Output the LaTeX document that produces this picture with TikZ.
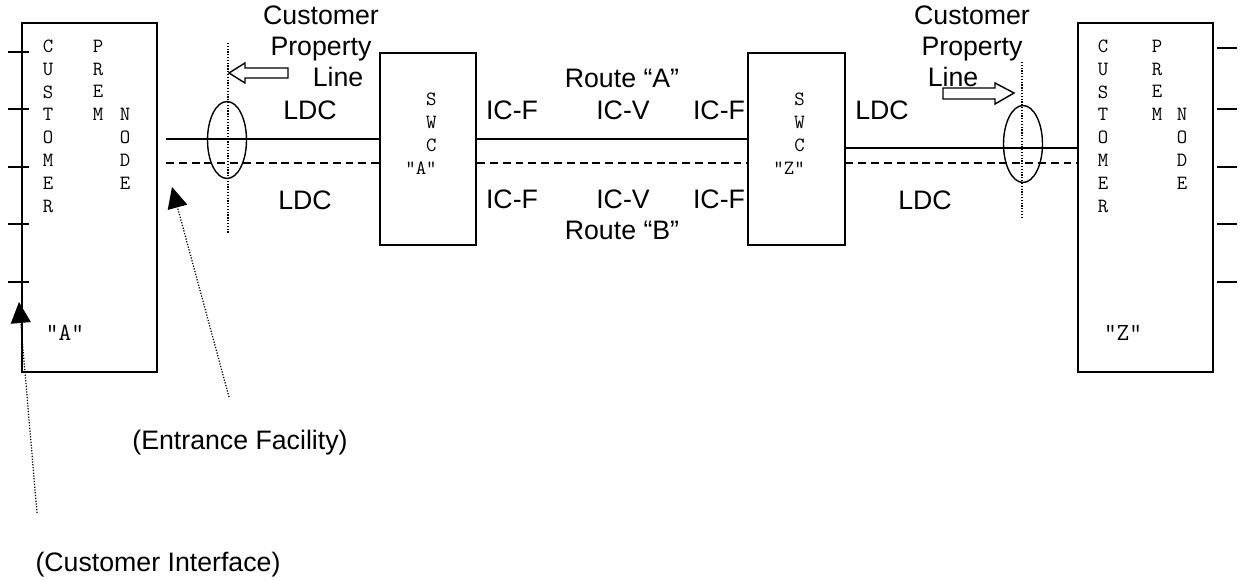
\documentclass[tikz,border=0pt]{standalone}
\usepackage{fontspec}
\setmainfont{Liberation Sans}
\usetikzlibrary{positioning, arrows.meta, calc, shapes.geometric}

\begin{document}
\begin{tikzpicture}[
    x=0.02cm, y=-0.02cm,
    prem/.style={rectangle, draw, line width=0.9pt, minimum width=2.7cm, minimum height=6.98cm, inner sep=0pt},
    swc/.style={rectangle, draw, line width=0.9pt, minimum width=1.93cm, minimum height=3.84cm, inner sep=0pt},
    col/.style={anchor=north, inner sep=0pt, align=center, font=\ttfamily\fontsize{11.5}{13}\selectfont},
    swctext/.style={anchor=north east, inner sep=0pt, align=right, font=\ttfamily\fontsize{11.5}{13}\selectfont},
    tag/.style={inner sep=0pt, font=\ttfamily\fontsize{14}{15}\selectfont},
    lbl/.style={inner sep=0pt, font=\fontsize{15.2}{17.6}\selectfont},
    plabel/.style={inner sep=0pt, anchor=north, align=center, font=\fontsize{15.2}{17.6}\selectfont},
    link/.style={line width=0.7pt},
    spare/.style={line width=0.7pt, dash pattern=on 4.5pt off 2.8pt},
    pline/.style={line width=0.7pt, dash pattern=on 0.7pt off 0.9pt},
    ring/.style={ellipse, draw, line width=0.8pt, minimum width=0.78cm, minimum height=1.54cm, inner sep=0pt},
    hollow/.style={draw, line width=0.8pt, fill=white},
    note/.style={line width=0.7pt, dash pattern=on 0.7pt off 0.9pt, -{Triangle[length=0.42cm, width=0.4cm]}},
]
    \useasboundingbox (0,0) rectangle (1244,581);

    % --- customer premises nodes ---
    \node[prem] (custA) at (89.5,197.5) {};
    \node[prem] (custZ) at (1145.5,197.5) {};

    \node[col] (cA1) at (48,39.5)  {C\\U\\S\\T\\O\\M\\E\\R};
    \node[col] (cA2) at (98,39.5)  {P\\R\\E\\M};
    \node[col] (cA3) at (125,108)  {N\\O\\D\\E};
    \node[tag] (tA) at (65,333) {“A”};

    \node[col] (cZ1) at (1103,39.5) {C\\U\\S\\T\\O\\M\\E\\R};
    \node[col] (cZ2) at (1157,39.5) {P\\R\\E\\M};
    \node[col] (cZ3) at (1182,108)  {N\\O\\D\\E};
    \node[tag] (tZ) at (1123,333) {“Z”};

    % interface ports
    \foreach \y in {52,109,167,224,282}
      \draw[link, line width=0.8pt] (8,\y) -- (29,\y);
    \foreach \y in {48,109,167,224,282}
      \draw[link, line width=0.8pt] (1217,\y) -- (1237,\y);

    % --- serving wire centers ---
    \node[swc] (swcA) at (428,149) {};
    \node[swc] (swcZ) at (796.5,149) {};
    \node[swctext] (sA) at (437,92.7) {S\\W\\C\\“A”};
    \node[swctext] (sZ) at (805,92.7) {S\\W\\C\\“Z”};

    % --- routes ---
    \coordinate (sol)  at (0,139);
    \coordinate (solZ) at (0,148);
    \coordinate (dsh)  at (0,163);
    \coordinate (efA)  at (166,139);
    \coordinate (efAd) at (166,163);

    \draw[link]  (efA) -- (swcA.west |- sol);
    \draw[spare] (efAd) -- (swcA.west |- dsh);
    \draw[link]  (swcA.east |- sol) -- (swcZ.west |- sol);
    \draw[spare] (swcA.east |- dsh) -- (swcZ.west |- dsh);
    \draw[link]  (swcZ.east |- solZ) -- (custZ.west |- solZ);
    \draw[spare] (swcZ.east |- dsh) -- (custZ.west |- dsh);

    % property lines
    \node[ring] (elA) at (227,140) {};
    \node[ring] (elZ) at (1023,144) {};
    \coordinate (plA1) at (228,43);
    \coordinate (plA2) at (228,233);
    \coordinate (plZ1) at (1022,62);
    \coordinate (plZ2) at (1022,217);
    \draw[pline] (plA1) -- (plA2);
    \draw[pline] (plZ1) -- (plZ2);

    \draw[hollow] (229,73) -- (245,63) -- (245,68) -- (288,68) -- (288,78)
      -- (245,78) -- (245,83) -- cycle;
    \draw[hollow] (1014,93) -- (995,83) -- (995,88) -- (943,88) -- (943,99)
      -- (995,99) -- (995,104) -- cycle;

    \node[plabel] (propA) at (321,6) {Customer\\Property\\\hspace*{0.68cm}Line};
    \node[plabel] (propZ) at (972,6) {Customer\\Property\\Line\hspace*{0.76cm}};

    % labels
    \node[lbl] (ldcA1) at (310,110) {LDC};
    \node[lbl] (ldcA2) at (305,200) {LDC};
    \node[lbl] (ldcZ1) at (882,110) {LDC};
    \node[lbl] (ldcZ2) at (925,200) {LDC};

    \node[lbl] (rA) at (622,78) {Route “A”};
    \node[lbl] (rB) at (622,230) {Route “B”};
    \node[lbl] (a1) at (512,110) {IC-F};
    \node[lbl] (a2) at (623,110) {IC-V};
    \node[lbl] (a3) at (719,110) {IC-F};
    \node[lbl] (b1) at (512,199) {IC-F};
    \node[lbl] (b2) at (623,199) {IC-V};
    \node[lbl] (b3) at (719,199) {IC-F};

    % callouts
    \node[lbl] (ef) at (240,443) {(Entrance Facility)};
    \node[lbl] (ci) at (158,565) {(Customer Interface)};
    \coordinate (efTail) at (229,397);
    \coordinate (efTip)  at (172,187);
    \coordinate (ciTail) at (37,513);
    \coordinate (ciTip)  at (19,302);
    \draw[note] (efTail) -- (efTip);
    \draw[note] (ciTail) -- (ciTip);

\end{tikzpicture}
\end{document}
